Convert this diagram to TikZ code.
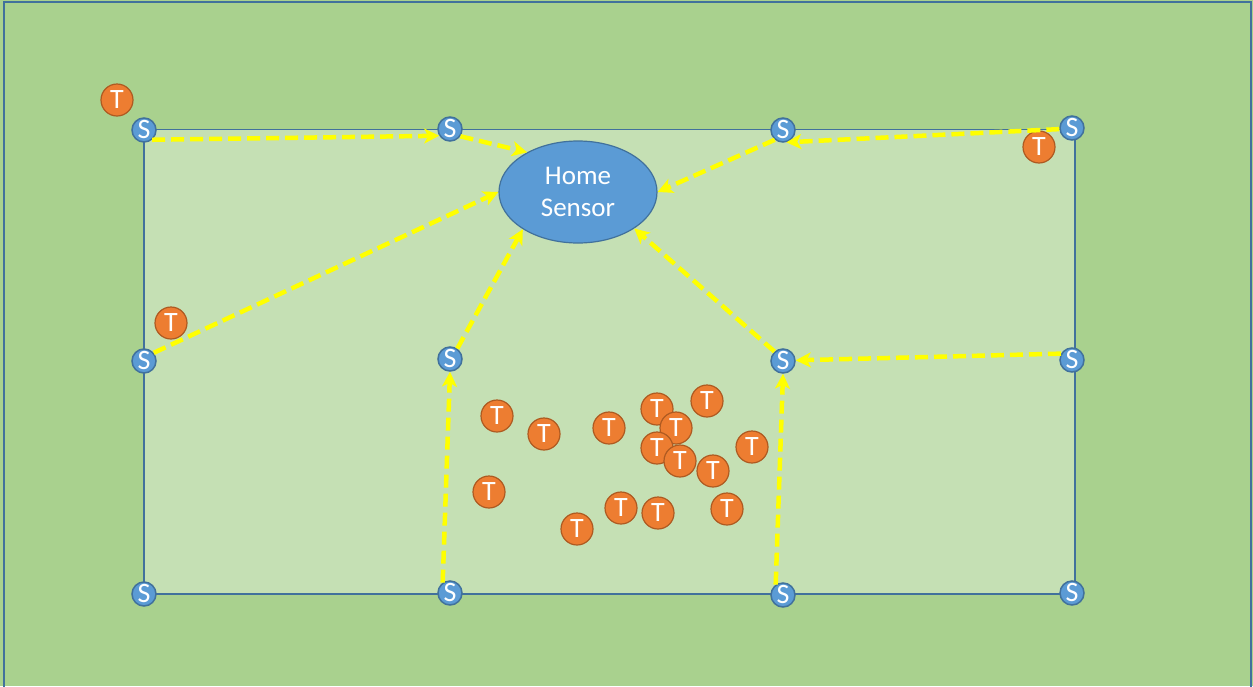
\documentclass[tikz,border=0pt]{standalone}
\usepackage{fontspec}
\setmainfont{Carlito}
\usetikzlibrary{arrows.meta,shapes.geometric}
\definecolor{outerg}{HTML}{A9D18E}
\definecolor{innerg}{HTML}{C5E0B4}
\definecolor{bdr}{HTML}{41719C}
\definecolor{sblue}{HTML}{5B9BD5}
\definecolor{torange}{HTML}{ED7D31}
\definecolor{tbdr}{HTML}{AE5A21}
\definecolor{yel}{HTML}{FFFF00}
\tikzset{
  snode/.style={circle,fill=sblue,draw=bdr,line width=1.5pt,minimum size=24pt,inner sep=0pt,text=white,font=\fontsize{28}{28}\selectfont},
  tnode/.style={circle,fill=torange,draw=tbdr,line width=1.2pt,minimum size=32pt,inner sep=0pt,text=white,font=\fontsize{28}{28}\selectfont},
  link/.style={draw=yel,line width=4.5pt,dash pattern=on 13pt off 6pt,-{Stealth[length=15pt,width=15pt,inset=4pt]}},
  homestyle/.style={ellipse,minimum width=158pt,minimum height=102pt,fill=sblue,draw=bdr,line width=1.2pt,inner sep=0pt,text=white,align=center,font=\fontsize{27}{32}\selectfont},
}
\begin{document}
\begin{tikzpicture}[x=1pt,y=-1pt]
\useasboundingbox (0,0) rectangle (1253,686);
\fill[outerg] (0,0) rectangle (1253,686);
\draw[bdr,line width=2pt] (3.5,700) -- (3.5,1.5) -- (1251,1.5) -- (1251,700);
\draw[fill=innerg,draw=bdr,line width=1.5pt] (144,129.5) rectangle (1075,594);
% home sensor
\node[homestyle] (home) at (578,192) {Home\\Sensor};
% T nodes
\node[tnode] (t1) at (117,100) {T};
\node[tnode] (t2) at (1039,147) {T};
\node[tnode] (t3) at (171,323) {T};
\node[tnode] (t4) at (497,416) {T};
\node[tnode] (t5) at (544,434) {T};
\node[tnode] (t6) at (609,428) {T};
\node[tnode] (t7) at (657,409) {T};
\node[tnode] (t8) at (676,428) {T};
\node[tnode] (t9) at (707,401) {T};
\node[tnode] (t10) at (657,448) {T};
\node[tnode] (t11) at (680,461) {T};
\node[tnode] (t12) at (713,471) {T};
\node[tnode] (t13) at (752,447) {T};
\node[tnode] (t14) at (489,492) {T};
\node[tnode] (t15) at (577,529) {T};
\node[tnode] (t16) at (621,508) {T};
\node[tnode] (t17) at (658,513) {T};
\node[tnode] (t18) at (727,509) {T};
% S nodes
\node[snode] (s1) at (144,130) {S};
\node[snode] (s2) at (450,129) {S};
\node[snode] (s3) at (783,130) {S};
\node[snode] (s4) at (1072,128) {S};
\node[snode] (s5) at (144,361) {S};
\node[snode] (s6) at (450,359) {S};
\node[snode] (s7) at (783,361) {S};
\node[snode] (s8) at (1072,360) {S};
\node[snode] (s9) at (144,594) {S};
\node[snode] (s10) at (450,593) {S};
\node[snode] (s11) at (783,595) {S};
\node[snode] (s12) at (1072,593) {S};
% links
\draw[link] (s1.-50) -- (s2.-148);
\draw[link] (s2.-35) -- (home.142);
\draw[link] (s4.185) -- (s3.-75);
\draw[link] (s3.-130) -- (home.east);
\draw[link] (s5.40) -- (home.west);
\draw[link] (s6.55) -- (home.-146);
\draw[link] (s7.132) -- (home.-33);
\draw[link] (s8.150) -- (s7.3);
\draw[link] (s10.125) -- (s6.-90);
\draw[link] (s11.125) -- (s7.-90);
\end{tikzpicture}
\end{document}
